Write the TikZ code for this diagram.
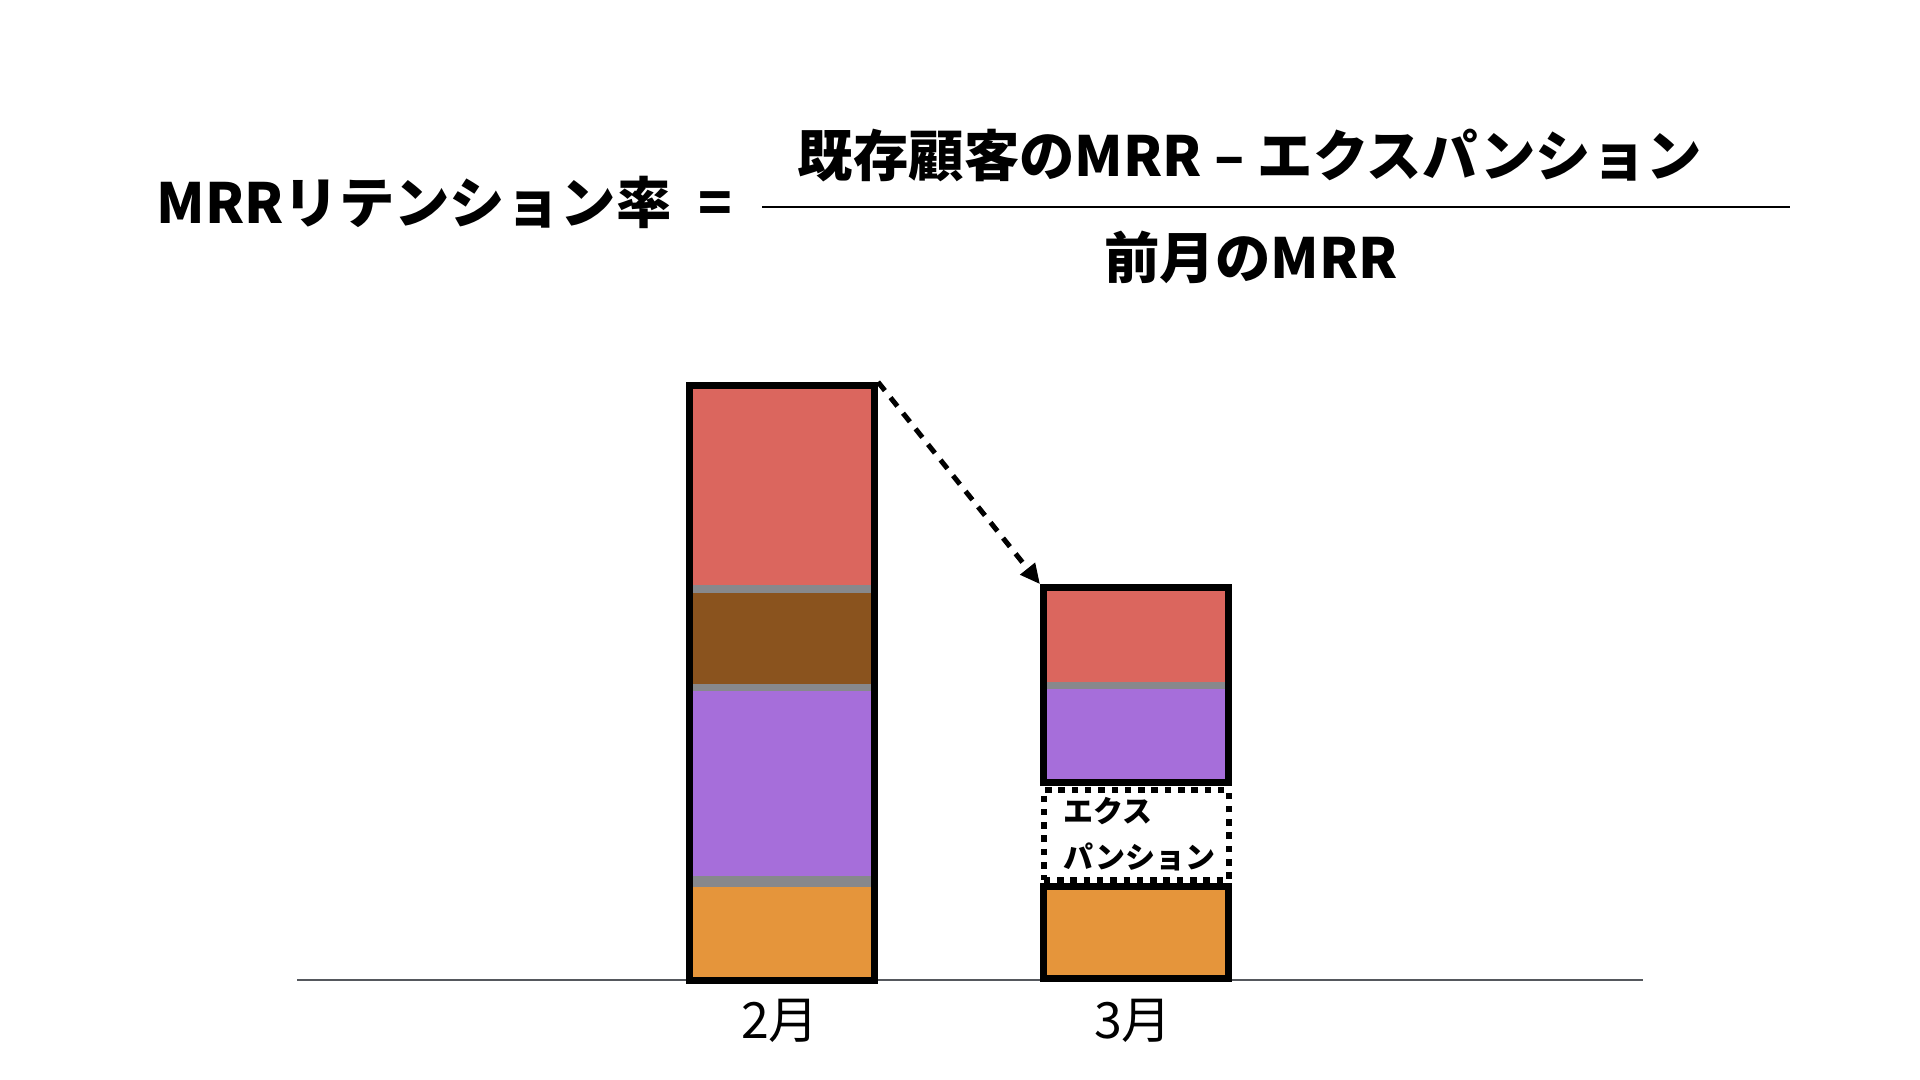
\documentclass[tikz,border=0pt]{standalone}
\usepackage{fontspec}
\setmainfont{Noto Sans CJK JP}
\usetikzlibrary{arrows.meta}

\definecolor{segred}{HTML}{DB665E}
\definecolor{segbrown}{HTML}{8A531E}
\definecolor{segpurple}{HTML}{A66EDA}
\definecolor{segorange}{HTML}{E5953B}
\definecolor{seggap}{HTML}{87888C}
\definecolor{axisgray}{HTML}{55585D}

\tikzset{every picture/.style={line width=0.75pt}}
\tikzset{
  barframe/.style={draw=black, line width=3.5pt, inner sep=0pt, minimum width=92.5pt},
  expframe/.style={draw=black, line width=3.25pt, dash pattern=on 3.25pt off 3.4pt, inner sep=0pt, minimum width=92.5pt},
  titletext/.style={inner sep=0pt, font=\fontsize{27.7pt}{34pt}\selectfont\bfseries},
  monthlabel/.style={inner sep=0pt, font=\fontsize{25pt}{30pt}\selectfont},
}

\begin{document}
\begin{tikzpicture}[x=0.5pt,y=0.5pt,yscale=-1,xscale=1]
    \useasboundingbox (0,0) rectangle (1920,1080);
    %Straight Lines (axis)
    \draw [color=axisgray, line width=1pt]   (297,980) -- (1643,980) ;

    %Segments of the first bar
    \fill [seggap] (692,389) rectangle (871,977) ;
    \fill [segred] (692,389) rectangle (871,585) ;
    \fill [segbrown] (692,593) rectangle (871,684) ;
    \fill [segpurple] (692,691) rectangle (871,876) ;
    \fill [segorange] (692,887) rectangle (871,977) ;
    %Segments of the second bar
    \fill [seggap] (1047,591) rectangle (1225,779) ;
    \fill [segred] (1047,591) rectangle (1225,682) ;
    \fill [segpurple] (1047,689) rectangle (1225,779) ;
    \fill [segorange] (1047,889) rectangle (1225,975) ;

    %Frames
    \node [barframe, minimum height=297.25pt] (febbar) at (782,682.75) {};
    \node [barframe, minimum height=97.15pt] (marbar) at (1136,684.85) {};
    \node [expframe, minimum height=45pt] (expbox) at (1136.25,835) {};
    \node [barframe, minimum height=46pt] (marbase) at (1136,932.5) {};

    % Text Node
    \node [inner sep=0pt, anchor=west, align=left, font=\fontsize{15pt}{23pt}\selectfont\bfseries] (exptext) at (1063,834) {エクス\\パンション};

    %Dashed arrow
    \draw [line width=2.5pt, dash pattern=on 5.5pt off 4.5pt, -{Triangle[length=10pt,width=9pt]}] (febbar.north east) -- (marbar.north west) ;

    % Text Node
    \node [monthlabel] (feblabel) at (780,1021) {2月};
    % Text Node
    \node [monthlabel] (marlabel) at (1133,1021) {3月};

    % Text Node
    \node [titletext, anchor=base west] (retention) at (156,224) {MRRリテンション率};
    % Text Node
    \node [titletext, anchor=base] (eqsign) at (715,224) {=};
    % Text Node
    \node [titletext, anchor=base] (numer) at (1250,177) {既存顧客のMRR – エクスパンション};
    %Straight Lines (fraction bar)
    \draw [line width=1pt]   (762,207) -- (1790,207) ;
    % Text Node
    \node [titletext, anchor=base] (denom) at (1251,279) {前月のMRR};
\end{tikzpicture}
\end{document}
